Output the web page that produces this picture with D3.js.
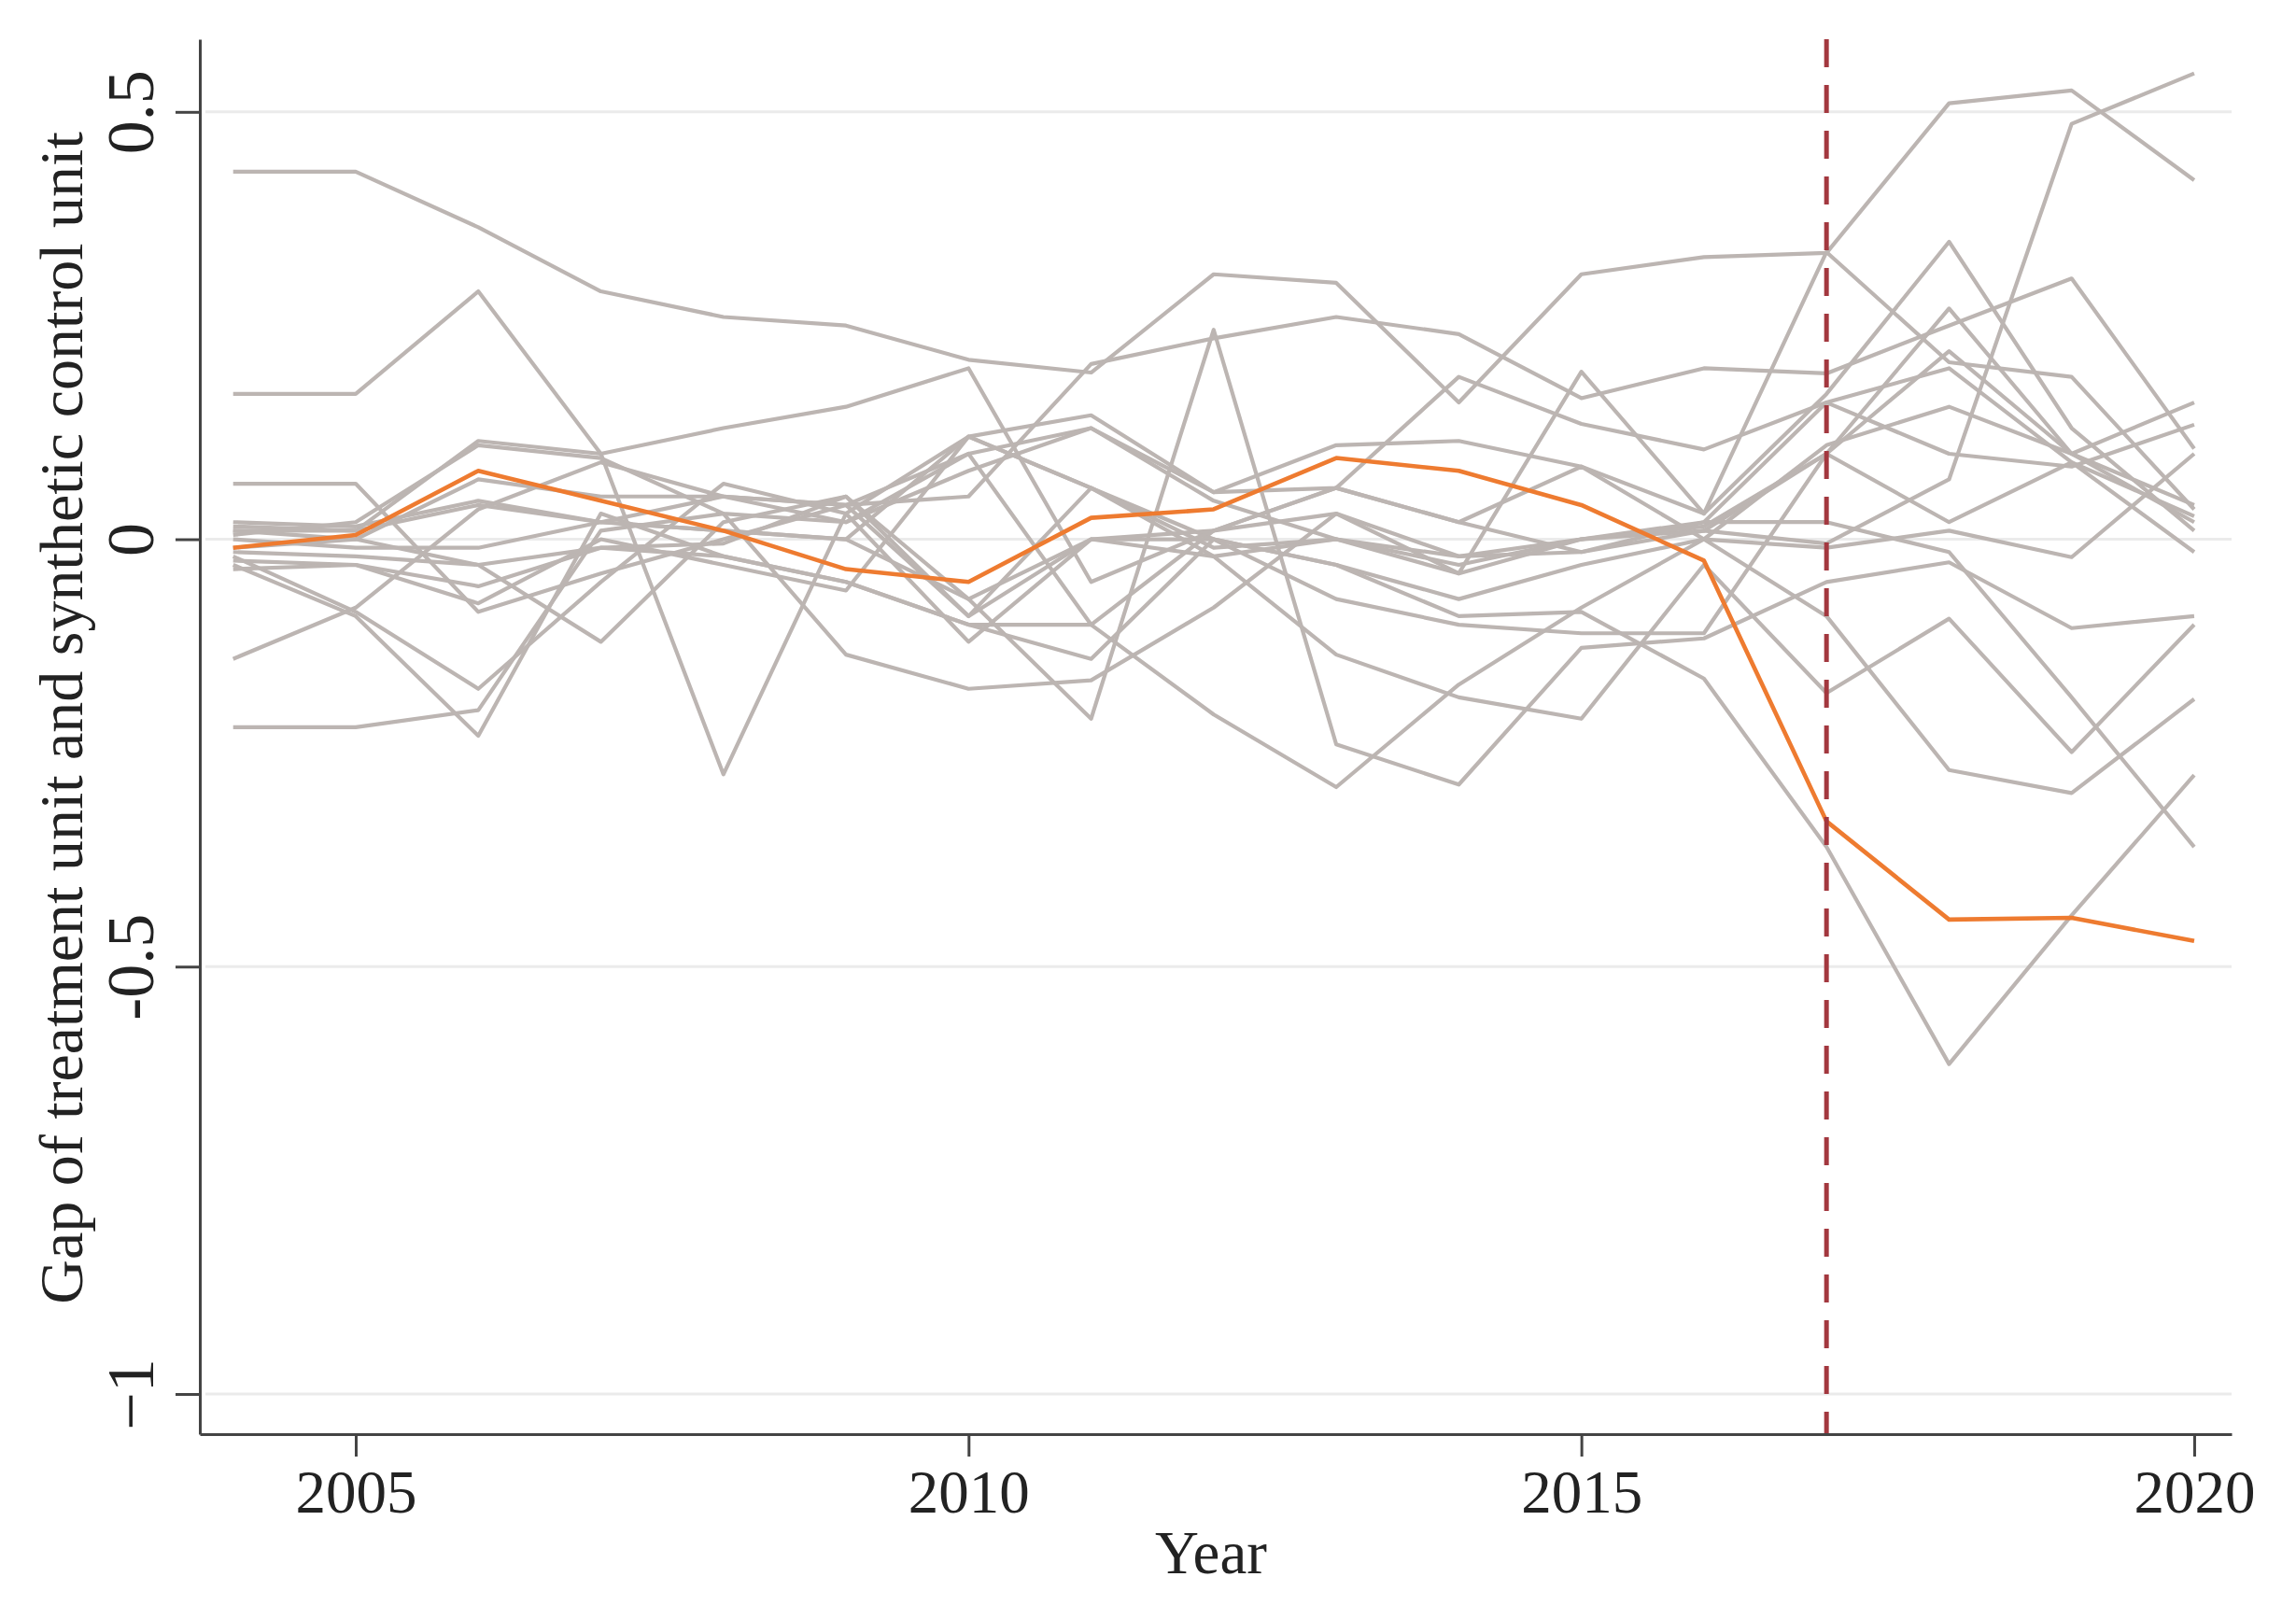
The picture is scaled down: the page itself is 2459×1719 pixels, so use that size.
<!DOCTYPE html>
<html>
<head>
<meta charset="utf-8">
<script src="https://cdn.jsdelivr.net/npm/d3@7"></script>
<style>
  body { margin: 0; background: #fff; }
  svg { display: block; }
  .axis path, .axis line { stroke: #444; stroke-width: 3; }
  .axis text { font-family: "Liberation Serif", "Times New Roman", serif; fill: #222; }
</style>
</head>
<body>
<div id="page"></div>
<script>
var years = [2004, 2005, 2006, 2007, 2008, 2009, 2010, 2011, 2012, 2013, 2014, 2015, 2016, 2017, 2018, 2019, 2020];

// treated unit
var treated = [-0.01, 0.005, 0.08, 0.045, 0.01, -0.035, -0.05, 0.025, 0.035, 0.095, 0.08, 0.04, -0.025, -0.33, -0.445, -0.443, -0.47];

// placebo (control) units
var control01 = [0.43, 0.43, 0.365, 0.29, 0.26, 0.25, 0.21, 0.195, 0.31, 0.30, 0.16, 0.31, 0.33, 0.335, 0.51, 0.525, 0.42];
var control02 = [0.17, 0.17, 0.29, 0.10, -0.275, 0.03, 0.12, 0.145, 0.055, 0.11, 0.115, 0.085, 0.03, 0.17, 0.348, 0.13, 0.01];
var control03 = [0.065, 0.065, -0.085, -0.04, 0.0, 0.04, -0.09, 0.06, 0.0, -0.03, -0.07, -0.03, 0.0, 0.11, 0.155, 0.10, 0.16];
var control04 = [-0.14, -0.08, 0.035, 0.09, 0.05, 0.02, 0.10, -0.10, 0.01, 0.06, 0.02, -0.015, 0.01, 0.10, 0.27, 0.10, 0.04];
var control05 = [-0.22, -0.22, -0.20, 0.01, 0.03, -0.135, -0.175, -0.165, -0.08, 0.03, -0.04, 0.0, 0.02, 0.16, 0.10, 0.085, 0.134];
var control06 = [0.01, 0.0, -0.03, -0.12, 0.02, 0.05, -0.07, -0.21, 0.245, -0.24, -0.287, -0.127, -0.116, -0.05, -0.027, -0.104, -0.09];
var control07 = [-0.03, -0.09, -0.23, 0.03, -0.02, -0.05, -0.10, -0.10, -0.205, -0.29, -0.17, -0.08, 0.0, -0.09, -0.27, -0.297, -0.187];
var control08 = [-0.02, -0.085, -0.175, -0.05, 0.065, 0.03, -0.12, 0.0, -0.02, -0.135, -0.185, -0.21, -0.03, -0.18, -0.093, -0.249, -0.10];
var control09 = [0.02, 0.015, 0.045, 0.02, 0.05, 0.04, 0.05, 0.205, 0.235, 0.26, 0.24, 0.165, 0.20, 0.194, 0.25, 0.305, 0.106];
var control10 = [0.015, 0.01, 0.115, 0.10, 0.13, 0.155, 0.20, -0.05, 0.01, 0.03, -0.02, 0.0, 0.01, -0.005, 0.07, 0.486, 0.545];
var control11 = [0.005, 0.02, 0.11, 0.095, 0.03, 0.02, 0.08, 0.13, 0.045, 0.0, -0.04, 0.196, 0.03, 0.336, 0.207, 0.19, 0.035];
var control12 = [-0.025, -0.03, -0.055, -0.01, -0.005, 0.05, -0.09, 0.0, 0.0, -0.03, -0.09, -0.085, -0.163, -0.36, -0.614, -0.44, -0.276];
var control13 = [-0.035, -0.03, -0.075, 0.0, -0.03, -0.06, 0.12, 0.06, -0.02, 0.0, -0.02, -0.015, 0.02, 0.02, -0.015, -0.185, -0.36];
var control14 = [0.0, -0.01, -0.01, 0.02, 0.01, 0.0, -0.07, 0.0, 0.01, 0.06, 0.02, 0.085, 0.0, -0.01, 0.01, -0.021, 0.10];
var control15 = [-0.015, -0.02, -0.03, -0.01, -0.02, -0.05, -0.10, -0.14, 0.0, -0.07, -0.10, -0.11, -0.11, 0.10, 0.02, 0.09, -0.015];
var control16 = [-0.01, 0.0, 0.07, 0.05, 0.05, 0.04, 0.10, 0.13, 0.055, 0.06, 0.19, 0.135, 0.105, 0.16, 0.20, 0.09, 0.027];
var control17 = [0.01, 0.01, 0.04, 0.02, 0.01, 0.0, 0.12, 0.06, -0.01, 0.0, -0.03, 0.0, 0.015, 0.10, 0.22, 0.10, 0.02];

var controls = [control01, control02, control03, control04, control05, control06, control07, control08, control09,
                control10, control11, control12, control13, control14, control15, control16, control17];

var xTicks = [2005, 2010, 2015, 2020];
var yTicks = [-1, -0.5, 0, 0.5];
var yTickLabels = ["\u22121", "-0.5", "0", "0.5"];
var treatYear = 2017;

var width = 2459,
    height = 1719;

var svg = d3.select("#page").append("svg")
    .attr("width", width)
    .attr("height", height);

var x = d3.scaleLinear().domain([2003.728, 2020.305]).range([214, 2390]),
    y = d3.scaleLinear().domain([-1.047, 0.585]).range([1536, 42]);

var line = d3.line()
    .x(function(d, i) { return x(years[i]); })
    .y(function(d) { return y(d); });

// grid
svg.append("g")
  .selectAll("line")
    .data(yTicks)
  .enter().append("line")
    .attr("x1", x.range()[0] + 6)
    .attr("x2", x.range()[1])
    .attr("y1", function(d) { return y(d); })
    .attr("y2", function(d) { return y(d); })
    .style("stroke", "#ebebeb")
    .style("stroke-width", 3);

svg.append("g")
  .selectAll("path")
    .data(controls)
  .enter().append("path")
    .attr("d", line)
    .style("fill", "none")
    .style("stroke", "#bcb5b2")
    .style("stroke-width", 4.2)
    .style("stroke-linejoin", "round");

svg.append("path")
    .attr("d", line(treated))
    .style("fill", "none")
    .style("stroke", "#ee7b30")
    .style("stroke-width", 4.6)
    .style("stroke-linejoin", "round");

svg.append("line")
    .attr("x1", x(treatYear))
    .attr("x2", x(treatYear))
    .attr("y1", y.range()[1])
    .attr("y2", y.range()[0])
    .style("stroke", "#a3383f")
    .style("stroke-width", 5)
    .style("stroke-dasharray", "30,19");

// axes
var xAxis = svg.append("g")
    .attr("class", "axis")
    .attr("transform", "translate(0," + y.range()[0] + ")")
    .call(d3.axisBottom(x).tickValues(xTicks).tickSize(24).tickSizeOuter(0).tickFormat(d3.format("d")));

xAxis.selectAll("text")
    .attr("y", 84)
    .attr("dy", 0)
    .style("font-size", "65px");

var yAxis = svg.append("g")
    .attr("class", "axis")
    .attr("transform", "translate(" + x.range()[0] + ",0)")
    .call(d3.axisLeft(y).tickValues(yTicks).tickSize(26).tickSizeOuter(0)
      .tickFormat(function(d, i) { return yTickLabels[i]; }));

yAxis.selectAll("text")
    .attr("x", 0)
    .attr("y", -50)
    .attr("dy", 0)
    .attr("transform", "rotate(-90)")
    .style("text-anchor", "middle")
    .style("font-size", "72px");

svg.append("text")
    .attr("x", 1297)
    .attr("y", 1685)
    .style("text-anchor", "middle")
    .style("font-family", "'Liberation Serif', 'Times New Roman', serif")
    .style("font-size", "65px")
    .style("fill", "#222")
    .text("Year");

svg.append("text")
    .attr("transform", "translate(88,769) rotate(-90)")
    .style("text-anchor", "middle")
    .style("font-family", "'Liberation Serif', 'Times New Roman', serif")
    .style("font-size", "66px")
    .style("fill", "#222")
    .text("Gap of treatment unit and synthetic control unit");
</script>
</body>
</html>
